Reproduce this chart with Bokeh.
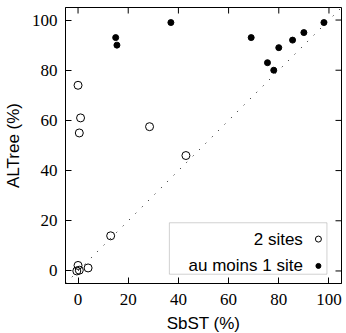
import math
from bokeh.plotting import figure
from bokeh.models import Range1d, FixedTicker, BoxAnnotation, Label
from bokeh.embed import file_html
from bokeh.resources import INLINE

# --- data ---
two_sites_x = [0, 1, 0.5, 28.5, 43, 13, 0, -0.5, 0.5, 4]
two_sites_y = [74, 61, 55, 57.5, 46, 14, 2.2, 0, 0.3, 1.2]
one_site_x = [15, 15.5, 37, 69, 80, 75.5, 78, 85.5, 90, 98]
one_site_y = [93, 90, 99, 93, 89, 83, 80, 92, 95, 99]
diag = [-5, 105]
ticks = [0, 20, 40, 60, 80, 100]
x_label = "SbST (%)"
y_label = "ALTree (%)"
legend_labels = ["2 sites", "au moins 1 site"]

lo, hi = -5, 105

p = figure(frame_width=276, frame_height=276, output_backend="svg", toolbar_location=None,
           x_range=Range1d(lo, hi), y_range=Range1d(lo, hi),
           min_border_left=55, min_border_right=6, min_border_top=7, min_border_bottom=48,
           x_axis_label=x_label, y_axis_label=y_label)
p.grid.visible = False
p.outline_line_color = "black"
p.outline_line_width = 1
p.background_fill_color = "white"
p.border_fill_color = "white"

for ax in [p.xaxis[0], p.yaxis[0]]:
    ax.ticker = FixedTicker(ticks=ticks)
    ax.major_tick_in = 6
    ax.major_tick_out = 0
    ax.minor_tick_line_color = None
    ax.axis_line_color = "black"
    ax.major_tick_line_color = "black"
    ax.major_label_text_font = "Liberation Serif"
    ax.major_label_text_font_size = "17px"
    ax.major_label_text_color = "black"
    ax.axis_label_text_font = "Liberation Sans"
    ax.axis_label_text_font_size = "17px"
    ax.axis_label_text_font_style = "normal"
    ax.axis_label_text_color = "black"
p.xaxis[0].major_label_standoff = 10
p.xaxis[0].axis_label_standoff = 6
p.yaxis[0].major_label_standoff = 8
p.yaxis[0].axis_label_standoff = 6

# mirrored inward ticks on top and right edges (dash markers clipped by the frame)
p.scatter(ticks, [hi] * len(ticks), marker="dash", size=12, angle=math.pi / 2,
          line_color="black", line_width=1)
p.scatter([hi] * len(ticks), ticks, marker="dash", size=12, angle=0,
          line_color="black", line_width=1)

p.line(diag, diag, line_color="black", line_width=1, line_dash="1 8")

p.scatter(two_sites_x, two_sites_y, marker="circle", size=8, fill_color=None,
          line_color="black", line_width=1)
p.scatter(one_site_x, one_site_y, marker="circle", size=6, fill_color="black",
          line_color="black")

# legend (drawn manually: text then symbol)
p.add_layout(BoxAnnotation(left=36.4, right=99.2, bottom=-1.3, top=19.2,
                           fill_color="white", fill_alpha=1.0,
                           line_color="#666666", line_width=1, level="underlay"))
for txt, yy in zip(legend_labels, [12.7, 2.0]):
    p.add_layout(Label(x=89.6, y=yy, text=txt, text_align="right", text_baseline="middle",
                       text_font="Liberation Sans", text_font_size="17px", text_color="black",
                       level="overlay"))
p.scatter([95.8], [12.7], marker="circle", size=6, fill_color="white", line_color="black")
p.scatter([95.8], [2.0], marker="circle", size=5, fill_color="black", line_color="black")

open("out.html", "w").write(file_html(p, INLINE))
